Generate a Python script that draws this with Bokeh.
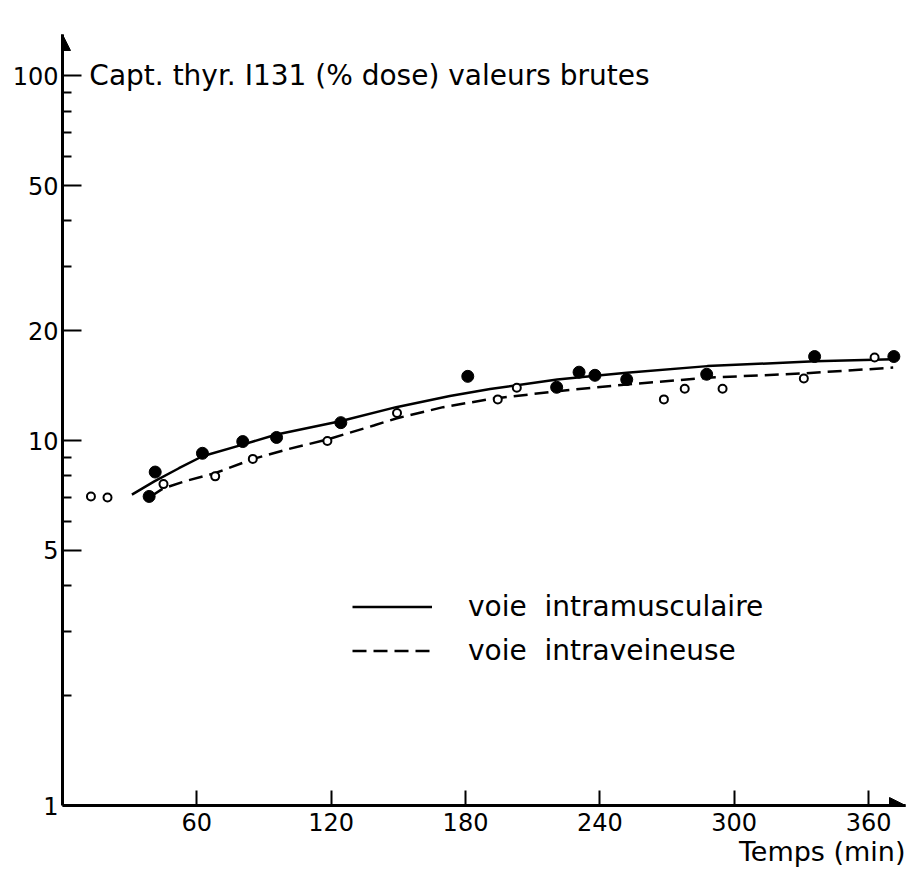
from bokeh.plotting import figure
from bokeh.models import (Range1d, FixedTicker, Arrow, NormalHead, Label,
                          Legend, LegendItem, Title)
from bokeh.embed import file_html
from bokeh.resources import INLINE

# ---- data (time in min, thyroid uptake in % dose) ----
im_t = [38.7, 41.4, 62.5, 80.5, 95.6, 124.3, 181, 220.7, 230.7, 237.8, 252, 287.7, 335.9, 371.3]
im_v = [7.03, 8.2, 9.23, 9.94, 10.2, 11.2, 15.0, 14.0, 15.4, 15.1, 14.7, 15.2, 17.0, 17.0]
iv_t = [12.7, 20.1, 45.1, 68.2, 85, 118.3, 149.4, 194.4, 202.9, 268.6, 277.9, 294.8, 331.1, 362.7]
iv_v = [7.03, 6.98, 7.6, 7.98, 8.91, 9.98, 11.9, 12.97, 13.96, 12.97, 13.87, 13.87, 14.8, 16.9]

im_curve_t = [31, 41, 52, 62.5, 80.5, 95.6, 124, 149, 173, 191, 221, 238, 252, 288, 336, 371]
im_curve_v = [7.11, 7.73, 8.4, 9.06, 9.75, 10.39, 11.3, 12.35, 13.25, 13.85, 14.7, 15.05, 15.35, 16.0, 16.5, 16.7]
iv_curve_t = [39.4, 45, 55, 68, 85, 100, 118, 139, 149, 170, 191, 221, 252, 288, 331, 371]
iv_curve_v = [7.03, 7.4, 7.75, 8.14, 8.9, 9.45, 10.06, 11.0, 11.5, 12.35, 13.0, 13.66, 14.25, 14.87, 15.28, 15.85]

x_ticks = [60, 120, 180, 240, 300, 360]
y_major = [1, 5, 10, 20, 50, 100]
y_minor = [2, 3, 4, 6, 7, 8, 9, 30, 40, 60, 70, 80, 90]

title_text = "Capt. thyr.  I131 (% dose) valeurs brutes"
x_label = "Temps (min)"
labels = ["voie  intramusculaire", "voie  intraveineuse"]

FONT = "DejaVu Sans"

p = figure(width=907, height=869, y_axis_type="log",
           x_range=Range1d(0, 376.5), y_range=Range1d(1, 129.7),
           output_backend="svg", toolbar_location=None,
           min_border_left=62, min_border_right=2,
           min_border_top=34, min_border_bottom=64)
p.outline_line_color = None
p.xgrid.visible = False
p.ygrid.visible = False
p.background_fill_color = "white"
p.border_fill_color = "white"

# axes
xa = p.xaxis[0]
xa.ticker = FixedTicker(ticks=x_ticks)
xa.axis_line_width = 3
xa.major_tick_in = 15
xa.major_tick_out = 0
xa.major_tick_line_width = 2
xa.minor_tick_line_color = None
xa.major_label_standoff = 7
xa.major_label_text_font = FONT
xa.major_label_text_font_size = "24px"
xa.major_label_text_color = "black"

ya = p.yaxis[0]
ya.ticker = FixedTicker(ticks=y_major, minor_ticks=y_minor)
ya.axis_line_width = 3
ya.major_tick_in = 19
ya.major_tick_out = 0
ya.minor_tick_in = 9
ya.minor_tick_out = 0
ya.major_tick_line_width = 2
ya.minor_tick_line_width = 2
ya.major_label_standoff = 4
ya.major_label_text_font = FONT
ya.major_label_text_font_size = "24px"
ya.major_label_text_color = "black"

# x-axis caption, right-aligned under the axis
p.add_layout(Title(text=x_label, align="right", standoff=0,
                   text_font=FONT, text_font_size="27px",
                   text_font_style="normal", text_color="black"), "below")

# arrow heads on axes
p.add_layout(Arrow(end=NormalHead(size=16, fill_color="black", line_color="black"),
                   x_start=0, y_start=100, x_end=0, y_end=129.7, line_width=3))
p.add_layout(Arrow(end=NormalHead(size=16, fill_color="black", line_color="black"),
                   x_start=360, y_start=1, x_end=376.5, y_end=1, line_width=3))

# curves
r_im = p.line(im_curve_t, im_curve_v, line_color="black", line_width=2.5)
r_iv = p.line(iv_curve_t, iv_curve_v, line_color="black", line_width=2.5, line_dash="14 7")

# points
p.scatter(im_t, im_v, size=12, fill_color="black", line_color="black")
p.scatter(iv_t, iv_v, size=8, fill_color="white", line_color="black", line_width=2)

# chart caption
p.add_layout(Label(x=12, y=100, text=title_text, text_baseline="middle",
                   text_font=FONT, text_font_size="28px", text_color="black"))

legend = Legend(items=[LegendItem(label=labels[0], renderers=[r_im]),
                       LegendItem(label=labels[1], renderers=[r_iv])],
                location=(290, 138), glyph_width=80, glyph_height=33,
                label_height=33, spacing=11, label_standoff=36,
                padding=0, margin=0, border_line_color=None,
                background_fill_alpha=0,
                label_text_font=FONT, label_text_font_size="28px",
                label_text_color="black")
p.add_layout(legend)

open("out.html", "w").write(file_html(p, INLINE))
